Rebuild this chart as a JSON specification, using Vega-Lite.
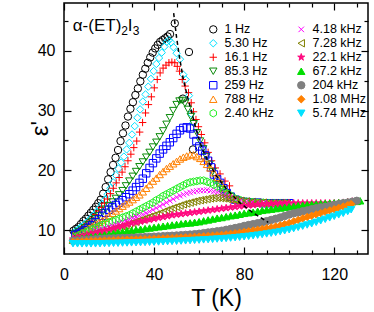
{
"$schema": "https://vega.github.io/schema/vega-lite/v6.json",
"width": 304, "height": 251,
"autosize": "none",
"padding": {"left": 64, "top": 3, "right": 6, "bottom": 58},
"background": "white",
"config": {
  "view": {"stroke": "black", "strokeWidth": 1.5},
  "font": "Liberation Sans",
  "axis": {"domain": false, "grid": false, "tickColor": "black", "tickWidth": 1.2, "labelFont": "Liberation Sans", "labelFontSize": 16, "labelColor": "black", "titleFont": "Liberation Sans", "titleColor": "black", "titleFontWeight": "normal", "labelOverlap": false, "labelFlush": false}
},
"datasets": {
"env": [{"T":48.7,"e":46.3},{"T":50.0,"e":42.2},{"T":51.3,"e":38.9},{"T":53.0,"e":35.2},{"T":54.7,"e":32.5},{"T":56.5,"e":30.0},{"T":58.3,"e":27.4},{"T":60.2,"e":24.9},{"T":62.0,"e":23.1},{"T":63.9,"e":21.6},{"T":67.6,"e":19.1},{"T":72.1,"e":16.9},{"T":78.0,"e":14.6},{"T":83.9,"e":12.9},{"T":90.7,"e":11.3}],
"lab": [{"T":3.9,"e":43.3}],
"pts": [
{"f":"1 Hz","T":4.2,"e":9.9},{"f":"1 Hz","T":5.3,"e":10.2},{"f":"1 Hz","T":6.4,"e":10.5},{"f":"1 Hz","T":7.5,"e":11.0},{"f":"1 Hz","T":8.6,"e":11.5},{"f":"1 Hz","T":9.7,"e":11.9},{"f":"1 Hz","T":10.8,"e":12.4},{"f":"1 Hz","T":11.9,"e":12.9},{"f":"1 Hz","T":13.0,"e":13.4},{"f":"1 Hz","T":14.1,"e":13.9},{"f":"1 Hz","T":15.2,"e":14.5},{"f":"1 Hz","T":16.3,"e":15.1},{"f":"1 Hz","T":17.4,"e":16.1},{"f":"1 Hz","T":18.5,"e":17.2},{"f":"1 Hz","T":19.6,"e":18.5},{"f":"1 Hz","T":20.7,"e":19.7},{"f":"1 Hz","T":21.8,"e":20.9},{"f":"1 Hz","T":22.9,"e":22.1},{"f":"1 Hz","T":24.0,"e":23.4},{"f":"1 Hz","T":25.1,"e":24.9},{"f":"1 Hz","T":26.2,"e":26.2},{"f":"1 Hz","T":27.3,"e":27.5},{"f":"1 Hz","T":28.4,"e":29.0},{"f":"1 Hz","T":29.5,"e":30.3},{"f":"1 Hz","T":30.6,"e":31.4},{"f":"1 Hz","T":31.7,"e":32.6},{"f":"1 Hz","T":32.8,"e":33.7},{"f":"1 Hz","T":33.9,"e":34.9},{"f":"1 Hz","T":35.0,"e":36.0},{"f":"1 Hz","T":36.1,"e":37.0},{"f":"1 Hz","T":37.2,"e":38.0},{"f":"1 Hz","T":38.3,"e":38.9},{"f":"1 Hz","T":39.4,"e":39.7},{"f":"1 Hz","T":40.5,"e":40.4},{"f":"1 Hz","T":41.6,"e":41.0},{"f":"1 Hz","T":42.7,"e":41.5},{"f":"1 Hz","T":43.8,"e":41.8},{"f":"1 Hz","T":44.9,"e":42.1},{"f":"1 Hz","T":46.0,"e":42.4},{"f":"1 Hz","T":47.1,"e":42.8},{"f":"1 Hz","T":49.2,"e":44.6},{"f":"1 Hz","T":55.5,"e":39.8},{"f":"1 Hz","T":52.8,"e":32.0},{"f":"1 Hz","T":57.3,"e":23.5},
{"f":"5.30 Hz","T":5.0,"e":9.8},{"f":"5.30 Hz","T":6.2,"e":10.1},{"f":"5.30 Hz","T":7.4,"e":10.5},{"f":"5.30 Hz","T":8.6,"e":10.8},{"f":"5.30 Hz","T":9.8,"e":11.2},{"f":"5.30 Hz","T":11.0,"e":11.6},{"f":"5.30 Hz","T":12.2,"e":12.1},{"f":"5.30 Hz","T":13.4,"e":12.6},{"f":"5.30 Hz","T":14.6,"e":13.1},{"f":"5.30 Hz","T":15.8,"e":13.7},{"f":"5.30 Hz","T":17.0,"e":14.4},{"f":"5.30 Hz","T":18.2,"e":15.1},{"f":"5.30 Hz","T":19.4,"e":16.0},{"f":"5.30 Hz","T":20.6,"e":17.0},{"f":"5.30 Hz","T":21.8,"e":18.0},{"f":"5.30 Hz","T":23.0,"e":19.2},{"f":"5.30 Hz","T":24.2,"e":20.3},{"f":"5.30 Hz","T":25.4,"e":21.3},{"f":"5.30 Hz","T":26.6,"e":22.3},{"f":"5.30 Hz","T":27.8,"e":23.5},{"f":"5.30 Hz","T":29.0,"e":24.6},{"f":"5.30 Hz","T":30.2,"e":26.0},{"f":"5.30 Hz","T":31.4,"e":27.4},{"f":"5.30 Hz","T":32.6,"e":28.8},{"f":"5.30 Hz","T":33.8,"e":30.2},{"f":"5.30 Hz","T":35.0,"e":31.5},{"f":"5.30 Hz","T":36.2,"e":32.7},{"f":"5.30 Hz","T":37.4,"e":34.0},{"f":"5.30 Hz","T":38.6,"e":35.3},{"f":"5.30 Hz","T":39.8,"e":36.6},{"f":"5.30 Hz","T":41.0,"e":37.8},{"f":"5.30 Hz","T":42.2,"e":38.8},{"f":"5.30 Hz","T":43.4,"e":39.7},{"f":"5.30 Hz","T":44.6,"e":40.7},{"f":"5.30 Hz","T":45.6,"e":41.5},{"f":"5.30 Hz","T":46.6,"e":41.8},{"f":"5.30 Hz","T":47.6,"e":41.4},{"f":"5.30 Hz","T":48.6,"e":40.6},{"f":"5.30 Hz","T":50.0,"e":39.6},{"f":"5.30 Hz","T":51.5,"e":38.6},{"f":"5.30 Hz","T":53.0,"e":36.0},{"f":"5.30 Hz","T":54.0,"e":35.2},{"f":"5.30 Hz","T":55.5,"e":32.5},{"f":"5.30 Hz","T":56.5,"e":29.5},{"f":"5.30 Hz","T":57.5,"e":28.0},
{"f":"16.1 Hz","T":5.0,"e":9.5},{"f":"16.1 Hz","T":6.3,"e":9.8},{"f":"16.1 Hz","T":7.6,"e":10.2},{"f":"16.1 Hz","T":8.9,"e":10.6},{"f":"16.1 Hz","T":10.2,"e":11.0},{"f":"16.1 Hz","T":11.5,"e":11.5},{"f":"16.1 Hz","T":12.8,"e":12.0},{"f":"16.1 Hz","T":14.1,"e":12.6},{"f":"16.1 Hz","T":15.4,"e":13.2},{"f":"16.1 Hz","T":16.7,"e":13.8},{"f":"16.1 Hz","T":18.0,"e":14.5},{"f":"16.1 Hz","T":19.3,"e":15.2},{"f":"16.1 Hz","T":20.6,"e":16.1},{"f":"16.1 Hz","T":21.9,"e":17.0},{"f":"16.1 Hz","T":23.2,"e":17.9},{"f":"16.1 Hz","T":24.5,"e":18.8},{"f":"16.1 Hz","T":25.8,"e":19.7},{"f":"16.1 Hz","T":27.1,"e":20.6},{"f":"16.1 Hz","T":28.4,"e":21.6},{"f":"16.1 Hz","T":29.7,"e":22.7},{"f":"16.1 Hz","T":31.0,"e":23.8},{"f":"16.1 Hz","T":32.3,"e":24.9},{"f":"16.1 Hz","T":33.6,"e":26.4},{"f":"16.1 Hz","T":34.9,"e":28.0},{"f":"16.1 Hz","T":36.2,"e":29.6},{"f":"16.1 Hz","T":37.5,"e":31.0},{"f":"16.1 Hz","T":38.8,"e":32.3},{"f":"16.1 Hz","T":40.1,"e":33.8},{"f":"16.1 Hz","T":41.4,"e":35.2},{"f":"16.1 Hz","T":42.7,"e":36.3},{"f":"16.1 Hz","T":44.0,"e":37.1},{"f":"16.1 Hz","T":45.3,"e":37.6},{"f":"16.1 Hz","T":46.6,"e":38.0},{"f":"16.1 Hz","T":47.9,"e":38.1},{"f":"16.1 Hz","T":49.2,"e":38.0},{"f":"16.1 Hz","T":50.3,"e":37.4},{"f":"16.1 Hz","T":51.3,"e":36.6},{"f":"16.1 Hz","T":52.5,"e":35.2},{"f":"16.1 Hz","T":53.8,"e":34.1},{"f":"16.1 Hz","T":55.3,"e":33.0},{"f":"16.1 Hz","T":56.5,"e":31.3},{"f":"16.1 Hz","T":57.5,"e":29.8},{"f":"16.1 Hz","T":58.6,"e":28.5},{"f":"16.1 Hz","T":59.7,"e":27.3},{"f":"16.1 Hz","T":61.0,"e":26.0},{"f":"16.1 Hz","T":62.5,"e":24.6},{"f":"16.1 Hz","T":64.0,"e":23.0},{"f":"16.1 Hz","T":65.5,"e":21.6},{"f":"16.1 Hz","T":67.2,"e":20.4},{"f":"16.1 Hz","T":69.3,"e":19.4},{"f":"16.1 Hz","T":71.5,"e":18.2},{"f":"16.1 Hz","T":73.5,"e":17.4},
{"f":"85.3 Hz","T":5.0,"e":9.4},{"f":"85.3 Hz","T":6.5,"e":9.7},{"f":"85.3 Hz","T":8.0,"e":10.0},{"f":"85.3 Hz","T":9.5,"e":10.4},{"f":"85.3 Hz","T":11.0,"e":10.9},{"f":"85.3 Hz","T":12.5,"e":11.4},{"f":"85.3 Hz","T":14.0,"e":11.9},{"f":"85.3 Hz","T":15.5,"e":12.4},{"f":"85.3 Hz","T":17.0,"e":12.9},{"f":"85.3 Hz","T":18.5,"e":13.5},{"f":"85.3 Hz","T":20.0,"e":14.1},{"f":"85.3 Hz","T":21.5,"e":14.7},{"f":"85.3 Hz","T":23.0,"e":15.3},{"f":"85.3 Hz","T":24.5,"e":15.9},{"f":"85.3 Hz","T":26.0,"e":16.6},{"f":"85.3 Hz","T":27.5,"e":17.4},{"f":"85.3 Hz","T":29.0,"e":18.2},{"f":"85.3 Hz","T":30.5,"e":19.0},{"f":"85.3 Hz","T":32.0,"e":19.8},{"f":"85.3 Hz","T":33.5,"e":20.6},{"f":"85.3 Hz","T":35.0,"e":21.4},{"f":"85.3 Hz","T":36.5,"e":22.2},{"f":"85.3 Hz","T":38.0,"e":23.0},{"f":"85.3 Hz","T":39.5,"e":23.9},{"f":"85.3 Hz","T":41.0,"e":24.7},{"f":"85.3 Hz","T":42.5,"e":25.6},{"f":"85.3 Hz","T":44.0,"e":26.6},{"f":"85.3 Hz","T":45.5,"e":27.7},{"f":"85.3 Hz","T":47.0,"e":28.8},{"f":"85.3 Hz","T":48.5,"e":30.0},{"f":"85.3 Hz","T":50.0,"e":31.0},{"f":"85.3 Hz","T":51.3,"e":31.6},{"f":"85.3 Hz","T":52.5,"e":31.7},{"f":"85.3 Hz","T":53.7,"e":31.2},{"f":"85.3 Hz","T":55.0,"e":30.2},{"f":"85.3 Hz","T":56.3,"e":29.0},{"f":"85.3 Hz","T":57.6,"e":27.8},{"f":"85.3 Hz","T":59.0,"e":26.3},{"f":"85.3 Hz","T":60.4,"e":24.9},{"f":"85.3 Hz","T":61.8,"e":23.6},{"f":"85.3 Hz","T":63.2,"e":22.3},{"f":"85.3 Hz","T":64.6,"e":21.0},{"f":"85.3 Hz","T":66.0,"e":19.8},{"f":"85.3 Hz","T":67.5,"e":18.6},{"f":"85.3 Hz","T":69.0,"e":17.6},{"f":"85.3 Hz","T":70.5,"e":16.8},{"f":"85.3 Hz","T":72.0,"e":16.2},{"f":"85.3 Hz","T":74.0,"e":15.6},{"f":"85.3 Hz","T":76.5,"e":15.1},{"f":"85.3 Hz","T":79.0,"e":14.8},{"f":"85.3 Hz","T":81.5,"e":14.7},{"f":"85.3 Hz","T":84.0,"e":14.6},{"f":"85.3 Hz","T":86.5,"e":14.6},{"f":"85.3 Hz","T":89.0,"e":14.5},{"f":"85.3 Hz","T":91.5,"e":14.5},{"f":"85.3 Hz","T":94.0,"e":14.5},{"f":"85.3 Hz","T":96.5,"e":14.5},{"f":"85.3 Hz","T":99.0,"e":14.5},
{"f":"259 Hz","T":5.0,"e":9.2},{"f":"259 Hz","T":6.5,"e":9.4},{"f":"259 Hz","T":8.0,"e":9.7},{"f":"259 Hz","T":9.5,"e":10.0},{"f":"259 Hz","T":11.0,"e":10.4},{"f":"259 Hz","T":12.5,"e":10.8},{"f":"259 Hz","T":14.0,"e":11.3},{"f":"259 Hz","T":15.5,"e":11.8},{"f":"259 Hz","T":17.0,"e":12.4},{"f":"259 Hz","T":18.5,"e":12.9},{"f":"259 Hz","T":20.0,"e":13.4},{"f":"259 Hz","T":21.5,"e":13.8},{"f":"259 Hz","T":23.0,"e":14.2},{"f":"259 Hz","T":24.5,"e":14.6},{"f":"259 Hz","T":26.0,"e":15.0},{"f":"259 Hz","T":27.5,"e":15.5},{"f":"259 Hz","T":29.0,"e":16.0},{"f":"259 Hz","T":30.5,"e":16.6},{"f":"259 Hz","T":32.0,"e":17.2},{"f":"259 Hz","T":33.5,"e":17.9},{"f":"259 Hz","T":35.0,"e":18.6},{"f":"259 Hz","T":36.5,"e":19.5},{"f":"259 Hz","T":38.0,"e":20.4},{"f":"259 Hz","T":39.5,"e":21.2},{"f":"259 Hz","T":41.0,"e":22.0},{"f":"259 Hz","T":42.5,"e":22.8},{"f":"259 Hz","T":44.0,"e":23.5},{"f":"259 Hz","T":45.5,"e":24.1},{"f":"259 Hz","T":47.0,"e":24.7},{"f":"259 Hz","T":48.5,"e":25.4},{"f":"259 Hz","T":50.0,"e":26.1},{"f":"259 Hz","T":51.5,"e":26.7},{"f":"259 Hz","T":53.0,"e":27.1},{"f":"259 Hz","T":54.5,"e":27.2},{"f":"259 Hz","T":56.0,"e":27.0},{"f":"259 Hz","T":57.5,"e":26.0},{"f":"259 Hz","T":58.8,"e":24.9},{"f":"259 Hz","T":60.1,"e":24.0},{"f":"259 Hz","T":61.4,"e":23.3},{"f":"259 Hz","T":62.7,"e":22.5},{"f":"259 Hz","T":64.0,"e":21.6},{"f":"259 Hz","T":65.3,"e":20.5},{"f":"259 Hz","T":66.6,"e":19.3},{"f":"259 Hz","T":68.0,"e":18.5},{"f":"259 Hz","T":69.4,"e":17.9},{"f":"259 Hz","T":70.8,"e":17.0},{"f":"259 Hz","T":72.3,"e":16.2},{"f":"259 Hz","T":74.0,"e":15.6},{"f":"259 Hz","T":76.0,"e":15.1},{"f":"259 Hz","T":78.5,"e":14.8},{"f":"259 Hz","T":81.0,"e":14.7},{"f":"259 Hz","T":83.5,"e":14.6},{"f":"259 Hz","T":86.0,"e":14.6},{"f":"259 Hz","T":88.5,"e":14.5},{"f":"259 Hz","T":91.0,"e":14.5},{"f":"259 Hz","T":93.5,"e":14.5},{"f":"259 Hz","T":96.0,"e":14.5},{"f":"259 Hz","T":98.5,"e":14.5},{"f":"259 Hz","T":100.0,"e":14.5},
{"f":"788 Hz","T":5.0,"e":9.0},{"f":"788 Hz","T":6.5,"e":9.3},{"f":"788 Hz","T":8.0,"e":9.6},{"f":"788 Hz","T":9.5,"e":9.9},{"f":"788 Hz","T":11.0,"e":10.3},{"f":"788 Hz","T":12.5,"e":10.6},{"f":"788 Hz","T":14.0,"e":11.0},{"f":"788 Hz","T":15.5,"e":11.3},{"f":"788 Hz","T":17.0,"e":11.6},{"f":"788 Hz","T":18.5,"e":12.0},{"f":"788 Hz","T":20.0,"e":12.4},{"f":"788 Hz","T":21.5,"e":12.8},{"f":"788 Hz","T":23.0,"e":13.2},{"f":"788 Hz","T":24.5,"e":13.6},{"f":"788 Hz","T":26.0,"e":14.0},{"f":"788 Hz","T":27.5,"e":14.4},{"f":"788 Hz","T":29.0,"e":14.7},{"f":"788 Hz","T":30.5,"e":15.1},{"f":"788 Hz","T":32.0,"e":15.5},{"f":"788 Hz","T":33.5,"e":15.9},{"f":"788 Hz","T":35.0,"e":16.4},{"f":"788 Hz","T":36.5,"e":17.0},{"f":"788 Hz","T":38.0,"e":17.6},{"f":"788 Hz","T":39.5,"e":18.2},{"f":"788 Hz","T":41.0,"e":18.7},{"f":"788 Hz","T":42.5,"e":19.3},{"f":"788 Hz","T":44.0,"e":19.8},{"f":"788 Hz","T":45.5,"e":20.3},{"f":"788 Hz","T":47.0,"e":20.7},{"f":"788 Hz","T":48.5,"e":21.1},{"f":"788 Hz","T":50.0,"e":21.5},{"f":"788 Hz","T":51.5,"e":21.9},{"f":"788 Hz","T":53.0,"e":22.2},{"f":"788 Hz","T":54.5,"e":22.4},{"f":"788 Hz","T":56.0,"e":22.6},{"f":"788 Hz","T":57.5,"e":22.6},{"f":"788 Hz","T":59.0,"e":22.3},{"f":"788 Hz","T":60.5,"e":22.0},{"f":"788 Hz","T":62.0,"e":21.5},{"f":"788 Hz","T":63.5,"e":21.0},{"f":"788 Hz","T":65.0,"e":20.4},{"f":"788 Hz","T":66.5,"e":19.6},{"f":"788 Hz","T":68.0,"e":18.8},{"f":"788 Hz","T":69.5,"e":17.9},{"f":"788 Hz","T":71.0,"e":17.0},{"f":"788 Hz","T":72.5,"e":16.3},{"f":"788 Hz","T":74.0,"e":15.7},{"f":"788 Hz","T":76.0,"e":15.2},{"f":"788 Hz","T":78.5,"e":14.9},{"f":"788 Hz","T":81.0,"e":14.7},{"f":"788 Hz","T":83.5,"e":14.6},{"f":"788 Hz","T":86.0,"e":14.6},{"f":"788 Hz","T":88.5,"e":14.6},{"f":"788 Hz","T":91.0,"e":14.5},{"f":"788 Hz","T":93.5,"e":14.5},{"f":"788 Hz","T":96.0,"e":14.5},{"f":"788 Hz","T":98.5,"e":14.5},
{"f":"2.40 kHz","T":5.0,"e":8.9},{"f":"2.40 kHz","T":6.5,"e":9.1},{"f":"2.40 kHz","T":8.0,"e":9.4},{"f":"2.40 kHz","T":9.5,"e":9.6},{"f":"2.40 kHz","T":11.0,"e":9.9},{"f":"2.40 kHz","T":12.5,"e":10.1},{"f":"2.40 kHz","T":14.0,"e":10.4},{"f":"2.40 kHz","T":15.5,"e":10.6},{"f":"2.40 kHz","T":17.0,"e":10.9},{"f":"2.40 kHz","T":18.5,"e":11.1},{"f":"2.40 kHz","T":20.0,"e":11.3},{"f":"2.40 kHz","T":21.5,"e":11.5},{"f":"2.40 kHz","T":23.0,"e":11.7},{"f":"2.40 kHz","T":24.5,"e":11.9},{"f":"2.40 kHz","T":26.0,"e":12.1},{"f":"2.40 kHz","T":27.5,"e":12.3},{"f":"2.40 kHz","T":29.0,"e":12.5},{"f":"2.40 kHz","T":30.5,"e":12.8},{"f":"2.40 kHz","T":32.0,"e":13.1},{"f":"2.40 kHz","T":33.5,"e":13.4},{"f":"2.40 kHz","T":35.0,"e":13.7},{"f":"2.40 kHz","T":36.5,"e":14.0},{"f":"2.40 kHz","T":38.0,"e":14.3},{"f":"2.40 kHz","T":39.5,"e":14.6},{"f":"2.40 kHz","T":41.0,"e":15.0},{"f":"2.40 kHz","T":42.5,"e":15.3},{"f":"2.40 kHz","T":44.0,"e":15.7},{"f":"2.40 kHz","T":45.5,"e":16.0},{"f":"2.40 kHz","T":47.0,"e":16.3},{"f":"2.40 kHz","T":48.5,"e":16.6},{"f":"2.40 kHz","T":50.0,"e":16.9},{"f":"2.40 kHz","T":51.5,"e":17.2},{"f":"2.40 kHz","T":53.0,"e":17.5},{"f":"2.40 kHz","T":54.5,"e":17.8},{"f":"2.40 kHz","T":56.0,"e":18.0},{"f":"2.40 kHz","T":57.5,"e":18.1},{"f":"2.40 kHz","T":59.0,"e":18.2},{"f":"2.40 kHz","T":60.5,"e":18.3},{"f":"2.40 kHz","T":62.0,"e":18.3},{"f":"2.40 kHz","T":63.5,"e":18.1},{"f":"2.40 kHz","T":65.0,"e":17.9},{"f":"2.40 kHz","T":66.5,"e":17.6},{"f":"2.40 kHz","T":68.0,"e":17.3},{"f":"2.40 kHz","T":69.5,"e":16.9},{"f":"2.40 kHz","T":71.0,"e":16.5},{"f":"2.40 kHz","T":72.5,"e":16.1},{"f":"2.40 kHz","T":74.0,"e":15.8},{"f":"2.40 kHz","T":76.0,"e":15.3},{"f":"2.40 kHz","T":78.5,"e":15.0},{"f":"2.40 kHz","T":81.0,"e":14.8},{"f":"2.40 kHz","T":83.5,"e":14.7},{"f":"2.40 kHz","T":86.0,"e":14.6},{"f":"2.40 kHz","T":88.5,"e":14.6},{"f":"2.40 kHz","T":91.0,"e":14.5},{"f":"2.40 kHz","T":93.5,"e":14.5},{"f":"2.40 kHz","T":96.0,"e":14.5},{"f":"2.40 kHz","T":98.5,"e":14.5},
{"f":"4.18 kHz","T":5.0,"e":8.8},{"f":"4.18 kHz","T":6.5,"e":8.95},{"f":"4.18 kHz","T":8.0,"e":9.1},{"f":"4.18 kHz","T":9.5,"e":9.25},{"f":"4.18 kHz","T":11.0,"e":9.4},{"f":"4.18 kHz","T":12.5,"e":9.6},{"f":"4.18 kHz","T":14.0,"e":9.8},{"f":"4.18 kHz","T":15.5,"e":10.0},{"f":"4.18 kHz","T":17.0,"e":10.2},{"f":"4.18 kHz","T":18.5,"e":10.35},{"f":"4.18 kHz","T":20.0,"e":10.5},{"f":"4.18 kHz","T":21.5,"e":10.7},{"f":"4.18 kHz","T":23.0,"e":10.9},{"f":"4.18 kHz","T":24.5,"e":11.05},{"f":"4.18 kHz","T":26.0,"e":11.25},{"f":"4.18 kHz","T":27.5,"e":11.5},{"f":"4.18 kHz","T":29.0,"e":11.75},{"f":"4.18 kHz","T":30.5,"e":12.0},{"f":"4.18 kHz","T":32.0,"e":12.2},{"f":"4.18 kHz","T":33.5,"e":12.4},{"f":"4.18 kHz","T":35.0,"e":12.6},{"f":"4.18 kHz","T":36.5,"e":12.85},{"f":"4.18 kHz","T":38.0,"e":13.1},{"f":"4.18 kHz","T":39.5,"e":13.4},{"f":"4.18 kHz","T":41.0,"e":13.7},{"f":"4.18 kHz","T":42.5,"e":14.0},{"f":"4.18 kHz","T":44.0,"e":14.3},{"f":"4.18 kHz","T":45.5,"e":14.6},{"f":"4.18 kHz","T":47.0,"e":14.9},{"f":"4.18 kHz","T":48.5,"e":15.2},{"f":"4.18 kHz","T":50.0,"e":15.5},{"f":"4.18 kHz","T":51.5,"e":15.75},{"f":"4.18 kHz","T":53.0,"e":15.95},{"f":"4.18 kHz","T":54.5,"e":16.15},{"f":"4.18 kHz","T":56.0,"e":16.3},{"f":"4.18 kHz","T":57.5,"e":16.45},{"f":"4.18 kHz","T":59.0,"e":16.55},{"f":"4.18 kHz","T":60.5,"e":16.6},{"f":"4.18 kHz","T":62.0,"e":16.65},{"f":"4.18 kHz","T":63.5,"e":16.7},{"f":"4.18 kHz","T":65.0,"e":16.6},{"f":"4.18 kHz","T":66.5,"e":16.45},{"f":"4.18 kHz","T":68.0,"e":16.3},{"f":"4.18 kHz","T":69.5,"e":16.1},{"f":"4.18 kHz","T":71.0,"e":15.9},{"f":"4.18 kHz","T":72.5,"e":15.7},{"f":"4.18 kHz","T":74.0,"e":15.5},{"f":"4.18 kHz","T":76.0,"e":15.2},{"f":"4.18 kHz","T":78.5,"e":15.0},{"f":"4.18 kHz","T":81.0,"e":14.8},{"f":"4.18 kHz","T":83.5,"e":14.7},{"f":"4.18 kHz","T":86.0,"e":14.6},{"f":"4.18 kHz","T":88.5,"e":14.6},{"f":"4.18 kHz","T":91.0,"e":14.5},{"f":"4.18 kHz","T":93.5,"e":14.5},{"f":"4.18 kHz","T":96.0,"e":14.5},{"f":"4.18 kHz","T":98.5,"e":14.5},
{"f":"7.28 kHz","T":5.0,"e":8.7},{"f":"7.28 kHz","T":6.5,"e":8.8},{"f":"7.28 kHz","T":8.0,"e":8.95},{"f":"7.28 kHz","T":9.5,"e":9.05},{"f":"7.28 kHz","T":11.0,"e":9.2},{"f":"7.28 kHz","T":12.5,"e":9.3},{"f":"7.28 kHz","T":14.0,"e":9.45},{"f":"7.28 kHz","T":15.5,"e":9.55},{"f":"7.28 kHz","T":17.0,"e":9.7},{"f":"7.28 kHz","T":18.5,"e":9.8},{"f":"7.28 kHz","T":20.0,"e":9.95},{"f":"7.28 kHz","T":21.5,"e":10.1},{"f":"7.28 kHz","T":23.0,"e":10.3},{"f":"7.28 kHz","T":24.5,"e":10.45},{"f":"7.28 kHz","T":26.0,"e":10.6},{"f":"7.28 kHz","T":27.5,"e":10.8},{"f":"7.28 kHz","T":29.0,"e":11.0},{"f":"7.28 kHz","T":30.5,"e":11.2},{"f":"7.28 kHz","T":32.0,"e":11.4},{"f":"7.28 kHz","T":33.5,"e":11.6},{"f":"7.28 kHz","T":35.0,"e":11.8},{"f":"7.28 kHz","T":36.5,"e":12.0},{"f":"7.28 kHz","T":38.0,"e":12.2},{"f":"7.28 kHz","T":39.5,"e":12.4},{"f":"7.28 kHz","T":41.0,"e":12.6},{"f":"7.28 kHz","T":42.5,"e":12.8},{"f":"7.28 kHz","T":44.0,"e":13.05},{"f":"7.28 kHz","T":45.5,"e":13.3},{"f":"7.28 kHz","T":47.0,"e":13.5},{"f":"7.28 kHz","T":48.5,"e":13.7},{"f":"7.28 kHz","T":50.0,"e":13.9},{"f":"7.28 kHz","T":51.5,"e":14.1},{"f":"7.28 kHz","T":53.0,"e":14.3},{"f":"7.28 kHz","T":54.5,"e":14.45},{"f":"7.28 kHz","T":56.0,"e":14.6},{"f":"7.28 kHz","T":57.5,"e":14.75},{"f":"7.28 kHz","T":59.0,"e":14.9},{"f":"7.28 kHz","T":60.5,"e":15.0},{"f":"7.28 kHz","T":62.0,"e":15.1},{"f":"7.28 kHz","T":63.5,"e":15.2},{"f":"7.28 kHz","T":65.0,"e":15.3},{"f":"7.28 kHz","T":66.5,"e":15.35},{"f":"7.28 kHz","T":68.0,"e":15.4},{"f":"7.28 kHz","T":69.5,"e":15.35},{"f":"7.28 kHz","T":71.0,"e":15.3},{"f":"7.28 kHz","T":72.5,"e":15.2},{"f":"7.28 kHz","T":74.0,"e":15.1},{"f":"7.28 kHz","T":76.0,"e":15.0},{"f":"7.28 kHz","T":78.5,"e":14.9},{"f":"7.28 kHz","T":81.0,"e":14.8},{"f":"7.28 kHz","T":83.5,"e":14.7},{"f":"7.28 kHz","T":86.0,"e":14.6},{"f":"7.28 kHz","T":88.5,"e":14.6},{"f":"7.28 kHz","T":91.0,"e":14.5},{"f":"7.28 kHz","T":93.5,"e":14.5},{"f":"7.28 kHz","T":96.0,"e":14.5},{"f":"7.28 kHz","T":98.5,"e":14.5},
{"f":"22.1 kHz","T":4,"e":8.5},{"f":"22.1 kHz","T":6,"e":8.7},{"f":"22.1 kHz","T":8,"e":8.9},{"f":"22.1 kHz","T":10,"e":9.1},{"f":"22.1 kHz","T":12,"e":9.3},{"f":"22.1 kHz","T":14,"e":9.5},{"f":"22.1 kHz","T":16,"e":9.7},{"f":"22.1 kHz","T":18,"e":9.9},{"f":"22.1 kHz","T":20,"e":10.1},{"f":"22.1 kHz","T":22,"e":10.3},{"f":"22.1 kHz","T":24,"e":10.5},{"f":"22.1 kHz","T":26,"e":10.7},{"f":"22.1 kHz","T":28,"e":10.95},{"f":"22.1 kHz","T":30,"e":11.15},{"f":"22.1 kHz","T":32,"e":11.3},{"f":"22.1 kHz","T":34,"e":11.45},{"f":"22.1 kHz","T":36,"e":11.6},{"f":"22.1 kHz","T":38,"e":11.75},{"f":"22.1 kHz","T":40,"e":11.9},{"f":"22.1 kHz","T":42,"e":12.05},{"f":"22.1 kHz","T":44,"e":12.2},{"f":"22.1 kHz","T":46,"e":12.35},{"f":"22.1 kHz","T":48,"e":12.5},{"f":"22.1 kHz","T":50,"e":12.6},{"f":"22.1 kHz","T":52,"e":12.7},{"f":"22.1 kHz","T":54,"e":12.8},{"f":"22.1 kHz","T":56,"e":12.9},{"f":"22.1 kHz","T":58,"e":13.0},{"f":"22.1 kHz","T":60,"e":13.1},{"f":"22.1 kHz","T":62,"e":13.2},{"f":"22.1 kHz","T":64,"e":13.3},{"f":"22.1 kHz","T":66,"e":13.4},{"f":"22.1 kHz","T":68,"e":13.5},{"f":"22.1 kHz","T":70,"e":13.6},{"f":"22.1 kHz","T":72,"e":13.7},{"f":"22.1 kHz","T":74,"e":13.8},{"f":"22.1 kHz","T":76,"e":13.9},{"f":"22.1 kHz","T":78,"e":14.0},{"f":"22.1 kHz","T":80,"e":14.1},{"f":"22.1 kHz","T":82,"e":14.15},{"f":"22.1 kHz","T":84,"e":14.2},{"f":"22.1 kHz","T":86,"e":14.3},{"f":"22.1 kHz","T":88,"e":14.35},{"f":"22.1 kHz","T":90,"e":14.4},{"f":"22.1 kHz","T":92,"e":14.4},{"f":"22.1 kHz","T":94,"e":14.45},{"f":"22.1 kHz","T":96,"e":14.45},{"f":"22.1 kHz","T":98,"e":14.5},{"f":"22.1 kHz","T":100,"e":14.5},{"f":"22.1 kHz","T":102,"e":14.5},{"f":"22.1 kHz","T":104,"e":14.5},{"f":"22.1 kHz","T":106,"e":14.5},{"f":"22.1 kHz","T":108,"e":14.5},{"f":"22.1 kHz","T":110,"e":14.5},{"f":"22.1 kHz","T":112,"e":14.5},{"f":"22.1 kHz","T":114,"e":14.5},{"f":"22.1 kHz","T":116,"e":14.5},{"f":"22.1 kHz","T":118,"e":14.5},{"f":"22.1 kHz","T":120,"e":14.5},{"f":"22.1 kHz","T":122,"e":14.55},{"f":"22.1 kHz","T":124,"e":14.6},{"f":"22.1 kHz","T":126,"e":14.7},{"f":"22.1 kHz","T":128,"e":14.8},{"f":"22.1 kHz","T":130,"e":14.9},
{"f":"67.2 kHz","T":4,"e":8.3},{"f":"67.2 kHz","T":6,"e":8.45},{"f":"67.2 kHz","T":8,"e":8.6},{"f":"67.2 kHz","T":10,"e":8.7},{"f":"67.2 kHz","T":12,"e":8.85},{"f":"67.2 kHz","T":14,"e":8.95},{"f":"67.2 kHz","T":16,"e":9.05},{"f":"67.2 kHz","T":18,"e":9.2},{"f":"67.2 kHz","T":20,"e":9.3},{"f":"67.2 kHz","T":22,"e":9.45},{"f":"67.2 kHz","T":24,"e":9.6},{"f":"67.2 kHz","T":26,"e":9.7},{"f":"67.2 kHz","T":28,"e":9.85},{"f":"67.2 kHz","T":30,"e":9.95},{"f":"67.2 kHz","T":32,"e":10.05},{"f":"67.2 kHz","T":34,"e":10.15},{"f":"67.2 kHz","T":36,"e":10.25},{"f":"67.2 kHz","T":38,"e":10.35},{"f":"67.2 kHz","T":40,"e":10.45},{"f":"67.2 kHz","T":42,"e":10.55},{"f":"67.2 kHz","T":44,"e":10.65},{"f":"67.2 kHz","T":46,"e":10.75},{"f":"67.2 kHz","T":48,"e":10.85},{"f":"67.2 kHz","T":50,"e":10.95},{"f":"67.2 kHz","T":52,"e":11.05},{"f":"67.2 kHz","T":54,"e":11.15},{"f":"67.2 kHz","T":56,"e":11.2},{"f":"67.2 kHz","T":58,"e":11.3},{"f":"67.2 kHz","T":60,"e":11.4},{"f":"67.2 kHz","T":62,"e":11.55},{"f":"67.2 kHz","T":64,"e":11.7},{"f":"67.2 kHz","T":66,"e":11.85},{"f":"67.2 kHz","T":68,"e":12.0},{"f":"67.2 kHz","T":70,"e":12.1},{"f":"67.2 kHz","T":72,"e":12.25},{"f":"67.2 kHz","T":74,"e":12.4},{"f":"67.2 kHz","T":76,"e":12.5},{"f":"67.2 kHz","T":78,"e":12.65},{"f":"67.2 kHz","T":80,"e":12.8},{"f":"67.2 kHz","T":82,"e":12.9},{"f":"67.2 kHz","T":84,"e":13.0},{"f":"67.2 kHz","T":86,"e":13.15},{"f":"67.2 kHz","T":88,"e":13.3},{"f":"67.2 kHz","T":90,"e":13.4},{"f":"67.2 kHz","T":92,"e":13.5},{"f":"67.2 kHz","T":94,"e":13.6},{"f":"67.2 kHz","T":96,"e":13.7},{"f":"67.2 kHz","T":98,"e":13.8},{"f":"67.2 kHz","T":100,"e":13.9},{"f":"67.2 kHz","T":102,"e":14.0},{"f":"67.2 kHz","T":104,"e":14.1},{"f":"67.2 kHz","T":106,"e":14.15},{"f":"67.2 kHz","T":108,"e":14.25},{"f":"67.2 kHz","T":110,"e":14.3},{"f":"67.2 kHz","T":112,"e":14.35},{"f":"67.2 kHz","T":114,"e":14.4},{"f":"67.2 kHz","T":116,"e":14.45},{"f":"67.2 kHz","T":118,"e":14.5},{"f":"67.2 kHz","T":120,"e":14.55},{"f":"67.2 kHz","T":122,"e":14.6},{"f":"67.2 kHz","T":124,"e":14.65},{"f":"67.2 kHz","T":126,"e":14.7},{"f":"67.2 kHz","T":128,"e":14.75},{"f":"67.2 kHz","T":130,"e":14.8},{"f":"67.2 kHz","T":131.5,"e":14.9},
{"f":"204 kHz","T":4,"e":8.2},{"f":"204 kHz","T":6,"e":8.25},{"f":"204 kHz","T":8,"e":8.3},{"f":"204 kHz","T":10,"e":8.35},{"f":"204 kHz","T":12,"e":8.4},{"f":"204 kHz","T":14,"e":8.45},{"f":"204 kHz","T":16,"e":8.5},{"f":"204 kHz","T":18,"e":8.55},{"f":"204 kHz","T":20,"e":8.6},{"f":"204 kHz","T":22,"e":8.62},{"f":"204 kHz","T":24,"e":8.65},{"f":"204 kHz","T":26,"e":8.68},{"f":"204 kHz","T":28,"e":8.7},{"f":"204 kHz","T":30,"e":8.73},{"f":"204 kHz","T":32,"e":8.76},{"f":"204 kHz","T":34,"e":8.8},{"f":"204 kHz","T":36,"e":8.83},{"f":"204 kHz","T":38,"e":8.86},{"f":"204 kHz","T":40,"e":8.9},{"f":"204 kHz","T":42,"e":8.94},{"f":"204 kHz","T":44,"e":8.98},{"f":"204 kHz","T":46,"e":9.02},{"f":"204 kHz","T":48,"e":9.06},{"f":"204 kHz","T":50,"e":9.1},{"f":"204 kHz","T":52,"e":9.15},{"f":"204 kHz","T":54,"e":9.2},{"f":"204 kHz","T":56,"e":9.25},{"f":"204 kHz","T":58,"e":9.32},{"f":"204 kHz","T":60,"e":9.4},{"f":"204 kHz","T":62,"e":9.5},{"f":"204 kHz","T":64,"e":9.6},{"f":"204 kHz","T":66,"e":9.7},{"f":"204 kHz","T":68,"e":9.8},{"f":"204 kHz","T":70,"e":9.9},{"f":"204 kHz","T":72,"e":10.05},{"f":"204 kHz","T":74,"e":10.2},{"f":"204 kHz","T":76,"e":10.35},{"f":"204 kHz","T":78,"e":10.5},{"f":"204 kHz","T":80,"e":10.7},{"f":"204 kHz","T":82,"e":10.85},{"f":"204 kHz","T":84,"e":11.0},{"f":"204 kHz","T":86,"e":11.15},{"f":"204 kHz","T":88,"e":11.3},{"f":"204 kHz","T":90,"e":11.5},{"f":"204 kHz","T":92,"e":11.7},{"f":"204 kHz","T":94,"e":11.9},{"f":"204 kHz","T":96,"e":12.1},{"f":"204 kHz","T":98,"e":12.35},{"f":"204 kHz","T":100,"e":12.6},{"f":"204 kHz","T":102,"e":12.8},{"f":"204 kHz","T":104,"e":12.95},{"f":"204 kHz","T":106,"e":13.15},{"f":"204 kHz","T":108,"e":13.3},{"f":"204 kHz","T":110,"e":13.5},{"f":"204 kHz","T":112,"e":13.65},{"f":"204 kHz","T":114,"e":13.8},{"f":"204 kHz","T":116,"e":13.9},{"f":"204 kHz","T":118,"e":14.05},{"f":"204 kHz","T":120,"e":14.2},{"f":"204 kHz","T":122,"e":14.35},{"f":"204 kHz","T":124,"e":14.5},{"f":"204 kHz","T":126,"e":14.6},{"f":"204 kHz","T":128,"e":14.75},{"f":"204 kHz","T":130,"e":14.9},
{"f":"1.08 MHz","T":4,"e":8.0},{"f":"1.08 MHz","T":6,"e":8.05},{"f":"1.08 MHz","T":8,"e":8.1},{"f":"1.08 MHz","T":10,"e":8.15},{"f":"1.08 MHz","T":12,"e":8.18},{"f":"1.08 MHz","T":14,"e":8.2},{"f":"1.08 MHz","T":16,"e":8.22},{"f":"1.08 MHz","T":18,"e":8.25},{"f":"1.08 MHz","T":20,"e":8.28},{"f":"1.08 MHz","T":22,"e":8.3},{"f":"1.08 MHz","T":24,"e":8.33},{"f":"1.08 MHz","T":26,"e":8.35},{"f":"1.08 MHz","T":28,"e":8.38},{"f":"1.08 MHz","T":30,"e":8.4},{"f":"1.08 MHz","T":32,"e":8.42},{"f":"1.08 MHz","T":34,"e":8.45},{"f":"1.08 MHz","T":36,"e":8.48},{"f":"1.08 MHz","T":38,"e":8.5},{"f":"1.08 MHz","T":40,"e":8.52},{"f":"1.08 MHz","T":42,"e":8.55},{"f":"1.08 MHz","T":44,"e":8.58},{"f":"1.08 MHz","T":46,"e":8.62},{"f":"1.08 MHz","T":48,"e":8.65},{"f":"1.08 MHz","T":50,"e":8.7},{"f":"1.08 MHz","T":52,"e":8.74},{"f":"1.08 MHz","T":54,"e":8.78},{"f":"1.08 MHz","T":56,"e":8.82},{"f":"1.08 MHz","T":58,"e":8.86},{"f":"1.08 MHz","T":60,"e":8.9},{"f":"1.08 MHz","T":62,"e":8.95},{"f":"1.08 MHz","T":64,"e":9.0},{"f":"1.08 MHz","T":66,"e":9.06},{"f":"1.08 MHz","T":68,"e":9.12},{"f":"1.08 MHz","T":70,"e":9.2},{"f":"1.08 MHz","T":72,"e":9.28},{"f":"1.08 MHz","T":74,"e":9.36},{"f":"1.08 MHz","T":76,"e":9.46},{"f":"1.08 MHz","T":78,"e":9.56},{"f":"1.08 MHz","T":80,"e":9.7},{"f":"1.08 MHz","T":82,"e":9.8},{"f":"1.08 MHz","T":84,"e":9.92},{"f":"1.08 MHz","T":86,"e":10.05},{"f":"1.08 MHz","T":88,"e":10.18},{"f":"1.08 MHz","T":90,"e":10.3},{"f":"1.08 MHz","T":92,"e":10.45},{"f":"1.08 MHz","T":94,"e":10.6},{"f":"1.08 MHz","T":96,"e":10.8},{"f":"1.08 MHz","T":98,"e":11.0},{"f":"1.08 MHz","T":100,"e":11.2},{"f":"1.08 MHz","T":102,"e":11.45},{"f":"1.08 MHz","T":104,"e":11.7},{"f":"1.08 MHz","T":106,"e":11.95},{"f":"1.08 MHz","T":108,"e":12.2},{"f":"1.08 MHz","T":110,"e":12.4},{"f":"1.08 MHz","T":112,"e":12.62},{"f":"1.08 MHz","T":114,"e":12.84},{"f":"1.08 MHz","T":116,"e":13.06},{"f":"1.08 MHz","T":118,"e":13.28},{"f":"1.08 MHz","T":120,"e":13.5},{"f":"1.08 MHz","T":122,"e":13.72},{"f":"1.08 MHz","T":124,"e":13.95},{"f":"1.08 MHz","T":126,"e":14.18},{"f":"1.08 MHz","T":127.5,"e":14.35},
{"f":"5.74 MHz","T":4,"e":7.72},{"f":"5.74 MHz","T":6,"e":7.7},{"f":"5.74 MHz","T":8,"e":7.7},{"f":"5.74 MHz","T":10,"e":7.7},{"f":"5.74 MHz","T":12,"e":7.7},{"f":"5.74 MHz","T":14,"e":7.7},{"f":"5.74 MHz","T":16,"e":7.72},{"f":"5.74 MHz","T":18,"e":7.74},{"f":"5.74 MHz","T":20,"e":7.76},{"f":"5.74 MHz","T":22,"e":7.78},{"f":"5.74 MHz","T":24,"e":7.8},{"f":"5.74 MHz","T":26,"e":7.82},{"f":"5.74 MHz","T":28,"e":7.84},{"f":"5.74 MHz","T":30,"e":7.86},{"f":"5.74 MHz","T":32,"e":7.88},{"f":"5.74 MHz","T":34,"e":7.9},{"f":"5.74 MHz","T":36,"e":7.92},{"f":"5.74 MHz","T":38,"e":7.95},{"f":"5.74 MHz","T":40,"e":7.98},{"f":"5.74 MHz","T":42,"e":8.01},{"f":"5.74 MHz","T":44,"e":8.04},{"f":"5.74 MHz","T":46,"e":8.07},{"f":"5.74 MHz","T":48,"e":8.1},{"f":"5.74 MHz","T":50,"e":8.13},{"f":"5.74 MHz","T":52,"e":8.16},{"f":"5.74 MHz","T":54,"e":8.2},{"f":"5.74 MHz","T":56,"e":8.24},{"f":"5.74 MHz","T":58,"e":8.28},{"f":"5.74 MHz","T":60,"e":8.32},{"f":"5.74 MHz","T":62,"e":8.36},{"f":"5.74 MHz","T":64,"e":8.4},{"f":"5.74 MHz","T":66,"e":8.45},{"f":"5.74 MHz","T":68,"e":8.5},{"f":"5.74 MHz","T":70,"e":8.55},{"f":"5.74 MHz","T":72,"e":8.6},{"f":"5.74 MHz","T":74,"e":8.66},{"f":"5.74 MHz","T":76,"e":8.72},{"f":"5.74 MHz","T":78,"e":8.8},{"f":"5.74 MHz","T":80,"e":8.88},{"f":"5.74 MHz","T":82,"e":8.96},{"f":"5.74 MHz","T":84,"e":9.05},{"f":"5.74 MHz","T":86,"e":9.15},{"f":"5.74 MHz","T":88,"e":9.25},{"f":"5.74 MHz","T":90,"e":9.36},{"f":"5.74 MHz","T":92,"e":9.48},{"f":"5.74 MHz","T":94,"e":9.6},{"f":"5.74 MHz","T":96,"e":9.74},{"f":"5.74 MHz","T":98,"e":9.88},{"f":"5.74 MHz","T":100,"e":10.05},{"f":"5.74 MHz","T":102,"e":10.25},{"f":"5.74 MHz","T":104,"e":10.45},{"f":"5.74 MHz","T":106,"e":10.65},{"f":"5.74 MHz","T":108,"e":10.85},{"f":"5.74 MHz","T":110,"e":11.05},{"f":"5.74 MHz","T":112,"e":11.3},{"f":"5.74 MHz","T":114,"e":11.55},{"f":"5.74 MHz","T":116,"e":11.8},{"f":"5.74 MHz","T":118,"e":12.05},{"f":"5.74 MHz","T":120,"e":12.3},{"f":"5.74 MHz","T":122,"e":12.55},{"f":"5.74 MHz","T":124,"e":12.8},{"f":"5.74 MHz","T":126,"e":13.1},{"f":"5.74 MHz","T":127.5,"e":13.4}
]
},
"layer": [
{
  "data": {"name": "pts"},
  "mark": {"type": "point", "size": 55, "strokeWidth": 1, "opacity": 1},
  "encoding": {
    "x": {"field": "T", "type": "quantitative", "scale": {"domain": [0, 135], "nice": false, "zero": false},
      "axis": {"orient": "bottom", "values": [0,10,20,30,40,50,60,70,80,90,100,110,120,130], "labelExpr": "datum.value % 40 === 0 ? datum.label : ''", "tickSize": {"condition": {"test": "datum.value % 40 === 0", "value": -7}, "value": -4}, "labelPadding": 19, "title": "T (K)", "titleFontSize": 23, "titlePadding": 2}},
    "y": {"field": "e", "type": "quantitative", "scale": {"domain": [6, 48], "nice": false, "zero": false},
      "axis": {"orient": "left", "values": [10,15,20,25,30,35,40,45], "labelExpr": "datum.value % 10 === 0 ? datum.label : ''", "tickSize": {"condition": {"test": "datum.value % 10 === 0", "value": -7}, "value": -4}, "labelPadding": 16, "title": "ε'", "titleFontSize": 24, "titleX": -17, "titleY": 125, "titleBaseline": "alphabetic", "titleAlign": "center"}},
    "shape": {"field": "f", "type": "nominal",
      "scale": {"domain": ["1 Hz","5.30 Hz","16.1 Hz","85.3 Hz","259 Hz","788 Hz","2.40 kHz","4.18 kHz","7.28 kHz","22.1 kHz","67.2 kHz","204 kHz","1.08 MHz","5.74 MHz"],
        "range": ["circle","diamond","M-1,0L1,0M0,-1L0,1","triangle-down","square","triangle-up","M0,-1L0.866,-0.5L0.866,0.5L0,1L-0.866,0.5L-0.866,-0.5Z","M-0.75,-0.75L0.75,0.75M-0.75,0.75L0.75,-0.75","triangle-left","M0,-1L0.2245,-0.309L0.951,-0.309L0.363,0.118L0.588,0.809L0,0.382L-0.588,0.809L-0.363,0.118L-0.951,-0.309L-0.2245,-0.309Z","triangle-up","circle","diamond","triangle-down"]},
      "legend": {"title": null, "orient": "none", "legendX": 143, "legendY": 20, "columns": 2, "symbolSize": 55, "symbolStrokeWidth": 1, "labelFontSize": 12.5, "labelFont": "Liberation Sans", "labelColor": "black", "rowPadding": 1.0, "columnPadding": 21, "labelOffset": 5, "padding": 0, "labelLimit": 0}},
    "stroke": {"field": "f", "type": "nominal",
      "scale": {"domain": ["1 Hz","5.30 Hz","16.1 Hz","85.3 Hz","259 Hz","788 Hz","2.40 kHz","4.18 kHz","7.28 kHz","22.1 kHz","67.2 kHz","204 kHz","1.08 MHz","5.74 MHz"],
        "range": ["#000000","#00e1ff","#ff0000","#0a8a0a","#0000ff","#ff8000","#22ee22","#ff00ff","#808000","#ff0a80","#00dd00","#808080","#ff8000","#00e1ff"]},
      "legend": {"title": null, "orient": "none", "legendX": 143, "legendY": 20, "columns": 2, "symbolSize": 55, "symbolStrokeWidth": 1, "labelFontSize": 12.5, "labelFont": "Liberation Sans", "labelColor": "black", "rowPadding": 1.0, "columnPadding": 21, "labelOffset": 5, "padding": 0, "labelLimit": 0}},
    "fill": {"field": "f", "type": "nominal",
      "scale": {"domain": ["1 Hz","5.30 Hz","16.1 Hz","85.3 Hz","259 Hz","788 Hz","2.40 kHz","4.18 kHz","7.28 kHz","22.1 kHz","67.2 kHz","204 kHz","1.08 MHz","5.74 MHz"],
        "range": ["transparent","transparent","transparent","transparent","transparent","transparent","transparent","transparent","transparent","#ff0a80","#00dd00","#808080","#ff8000","#00e1ff"]},
      "legend": {"title": null, "orient": "none", "legendX": 143, "legendY": 20, "columns": 2, "symbolSize": 55, "symbolStrokeWidth": 1, "labelFontSize": 12.5, "labelFont": "Liberation Sans", "labelColor": "black", "rowPadding": 1.0, "columnPadding": 21, "labelOffset": 5, "padding": 0, "labelLimit": 0}}
  }
},
{
  "data": {"name": "env"},
  "mark": {"type": "line", "color": "black", "strokeDash": [4, 3], "strokeWidth": 1.5},
  "encoding": {
    "x": {"field": "T", "type": "quantitative", "scale": {"domain": [0, 135], "nice": false, "zero": false},
      "axis": {"orient": "top", "values": [0,10,20,30,40,50,60,70,80,90,100,110,120,130], "labels": false, "title": null, "tickSize": {"condition": {"test": "datum.value % 40 === 0", "value": -7}, "value": -4}}},
    "y": {"field": "e", "type": "quantitative", "scale": {"domain": [6, 48], "nice": false, "zero": false},
      "axis": {"orient": "right", "values": [10,15,20,25,30,35,40,45], "labels": false, "title": null, "tickSize": {"condition": {"test": "datum.value % 10 === 0", "value": -7}, "value": -4}}}
  }
},
{
  "data": {"name": "lab"},
  "encoding": {
    "x": {"field": "T", "type": "quantitative", "scale": {"domain": [0, 135], "nice": false, "zero": false}, "axis": null},
    "y": {"field": "e", "type": "quantitative", "scale": {"domain": [6, 48], "nice": false, "zero": false}, "axis": null}
  },
  "layer": [
    {"mark": {"type": "text", "text": "α-(ET)", "align": "left", "baseline": "alphabetic", "fontSize": 17, "font": "Liberation Sans", "color": "black"}},
    {"mark": {"type": "text", "text": "2", "align": "left", "baseline": "alphabetic", "fontSize": 12, "font": "Liberation Sans", "color": "black", "dx": 48.5, "dy": 3.5}},
    {"mark": {"type": "text", "text": "I", "align": "left", "baseline": "alphabetic", "fontSize": 17, "font": "Liberation Sans", "color": "black", "dx": 55}},
    {"mark": {"type": "text", "text": "3", "align": "left", "baseline": "alphabetic", "fontSize": 12, "font": "Liberation Sans", "color": "black", "dx": 60, "dy": 3.5}}
  ]
}
],
"resolve": {"axis": {"x": "independent", "y": "independent"}}
}
